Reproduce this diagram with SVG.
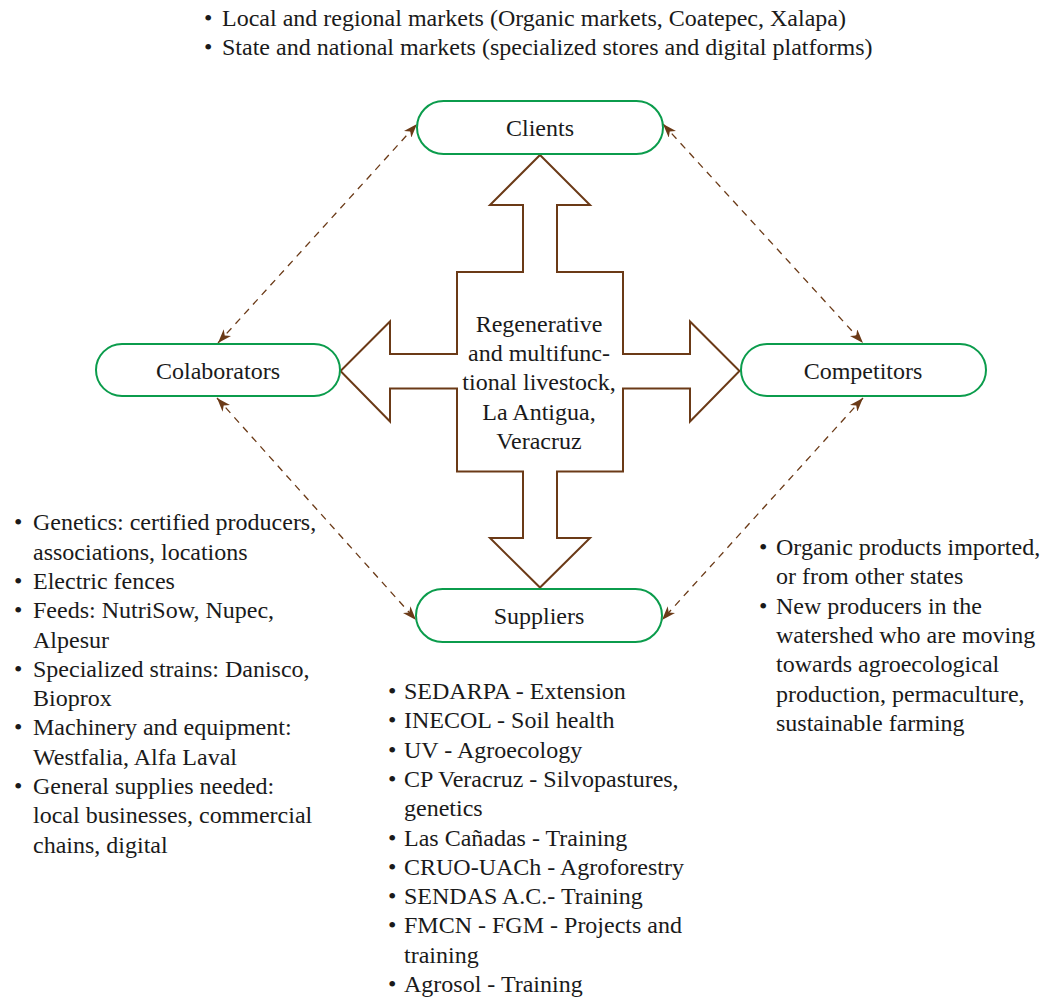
<svg xmlns="http://www.w3.org/2000/svg" width="1062" height="999" viewBox="0 0 1062 999" font-family="Liberation Serif, Times New Roman, serif" font-size="24">
<style>
  text { fill: #1a1a1a; }
  .c { text-anchor: middle; }
  .node { fill: #ffffff; stroke: #0b9c4c; stroke-width: 2; }
  .cross { fill: #ffffff; stroke: #6b3a17; stroke-width: 2; stroke-linejoin: miter; }
  .conn { fill: none; stroke: #6b3a17; stroke-width: 1.3; stroke-dasharray: 7 6; marker-start: url(#ah); marker-end: url(#ah); }
</style>
<defs>
  <marker id="ah" viewBox="0 0 14 10" refX="14" refY="5" markerWidth="14" markerHeight="10" markerUnits="userSpaceOnUse" orient="auto-start-reverse">
    <path d="M0,0 L14,5 L0,10 L4,5 Z" fill="#6b3a17" stroke="none"/>
  </marker>
</defs>
<rect width="1062" height="999" fill="#ffffff"/>

<g id="connectors">
  <path class="conn" d="M218,343 L417,124"/>
  <path class="conn" d="M663,124 L863,343"/>
  <path class="conn" d="M217,398 L416,620"/>
  <path class="conn" d="M863,398 L662,620"/>
</g>

<g id="center">
  <path class="cross" d="M540,155 L590,205 L557,205 L557,272 L623,272 L623,354 L690,354 L690,321.5 L739.5,371 L690,421.5 L690,388.5 L623,388.5 L623,471.5 L557,471.5 L557,538 L590,538 L540,587.5 L490,538 L523,538 L523,471.5 L457,471.5 L457,388.5 L390,388.5 L390,421.5 L340.5,371 L390,321.5 L390,354 L457,354 L457,272 L523,272 L523,205 L490,205 Z"/>
  <text class="c" x="539" y="331.7">Regenerative</text>
  <text class="c" x="539" y="361">and multifunc-</text>
  <text class="c" x="539" y="390.3">tional livestock,</text>
  <text class="c" x="539" y="419.6">La Antigua,</text>
  <text class="c" x="539" y="449">Veracruz</text>
</g>

<g id="clients">
  <rect class="node" x="417" y="101" width="246" height="53" rx="26.5"/>
  <text class="c" x="540" y="135.5">Clients</text>
</g>
<g id="colaborators">
  <rect class="node" x="96" y="344" width="244" height="52" rx="26"/>
  <text class="c" x="218" y="379">Colaborators</text>
</g>
<g id="competitors">
  <rect class="node" x="741" y="344" width="245" height="52" rx="26"/>
  <text class="c" x="863" y="379">Competitors</text>
</g>
<g id="suppliers">
  <rect class="node" x="416" y="589" width="246" height="53" rx="26.5"/>
  <text class="c" x="539" y="623.5">Suppliers</text>
</g>

<g id="clients-list">
  <text x="204" y="25.5">•</text><text x="222" y="25.5">Local and regional markets (Organic markets, Coatepec, Xalapa)</text>
  <text x="204" y="54.8">•</text><text x="222" y="54.8">State and national markets (specialized stores and digital platforms)</text>
</g>

<g id="colaborators-list">
  <text x="14" y="530.3">•</text><text x="33" y="530.3">Genetics: certified producers,</text>
  <text x="33" y="559.6">associations, locations</text>
  <text x="14" y="588.9">•</text><text x="33" y="588.9">Electric fences</text>
  <text x="14" y="618.2">•</text><text x="33" y="618.2">Feeds: NutriSow, Nupec,</text>
  <text x="33" y="647.5">Alpesur</text>
  <text x="14" y="676.8">•</text><text x="33" y="676.8">Specialized strains: Danisco,</text>
  <text x="33" y="706.1">Bioprox</text>
  <text x="14" y="735.4">•</text><text x="33" y="735.4">Machinery and equipment:</text>
  <text x="33" y="764.7">Westfalia, Alfa Laval</text>
  <text x="14" y="794">•</text><text x="33" y="794">General supplies needed:</text>
  <text x="33" y="823.3">local businesses, commercial</text>
  <text x="33" y="852.6">chains, digital</text>
</g>

<g id="suppliers-list">
  <text x="388" y="699">•</text><text x="404" y="699">SEDARPA - Extension</text>
  <text x="388" y="728.3">•</text><text x="404" y="728.3">INECOL - Soil health</text>
  <text x="388" y="757.6">•</text><text x="404" y="757.6">UV - Agroecology</text>
  <text x="388" y="786.9">•</text><text x="404" y="786.9">CP Veracruz - Silvopastures,</text>
  <text x="404" y="816.2">genetics</text>
  <text x="388" y="845.5">•</text><text x="404" y="845.5">Las Cañadas - Training</text>
  <text x="388" y="874.8">•</text><text x="404" y="874.8">CRUO-UACh - Agroforestry</text>
  <text x="388" y="904.1">•</text><text x="404" y="904.1">SENDAS A.C.- Training</text>
  <text x="388" y="933.4">•</text><text x="404" y="933.4">FMCN - FGM - Projects and</text>
  <text x="404" y="962.7">training</text>
  <text x="388" y="992">•</text><text x="404" y="992">Agrosol - Training</text>
</g>

<g id="competitors-list">
  <text x="759" y="555">•</text><text x="776" y="555">Organic products imported,</text>
  <text x="776" y="584.3">or from other states</text>
  <text x="759" y="613.6">•</text><text x="776" y="613.6">New producers in the</text>
  <text x="776" y="642.9">watershed who are moving</text>
  <text x="776" y="672.2">towards agroecological</text>
  <text x="776" y="701.5">production, permaculture,</text>
  <text x="776" y="730.8">sustainable farming</text>
</g>
</svg>
